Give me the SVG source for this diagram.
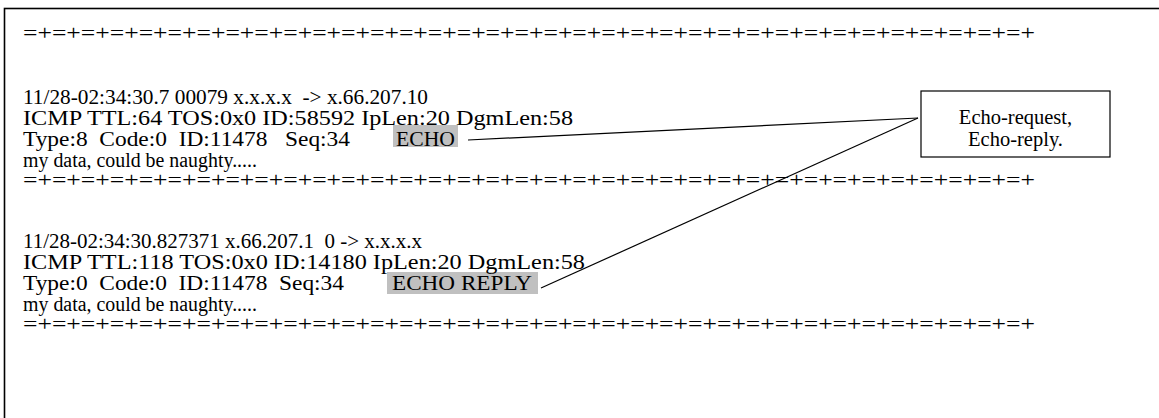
<svg xmlns="http://www.w3.org/2000/svg" width="1159" height="418" viewBox="0 0 1159 418">
<style>
text{font-family:"Liberation Serif","Times New Roman",serif;font-size:20.5px;fill:#000;white-space:pre}
.sep{font-size:20px}
.hl{fill:#c0c0c0}
.c{fill:none;stroke:#000;stroke-width:1.2}
.note{font-size:20.5px}
</style>
<rect width="1159" height="418" fill="#fff"/>
<rect x="4.5" y="8.5" width="1170" height="430" fill="none" stroke="#000" stroke-width="1.6"/>
<g id="log">
<rect class="hl" x="393" y="125" width="65" height="22"/>
<rect class="hl" x="387" y="272" width="151" height="22"/>
<text class="sep" x="23" y="40" textLength="1012" lengthAdjust="spacingAndGlyphs">=+=+=+=+=+=+=+=+=+=+=+=+=+=+=+=+=+=+=+=+=+=+=+=+=+=+=+=+=+=+=+=+=+=+=+</text>
<text x="23" y="104" textLength="405" lengthAdjust="spacingAndGlyphs">11/28-02:34:30.7 00079 x.x.x.x  -&gt; x.66.207.10</text>
<text x="23" y="125" textLength="550" lengthAdjust="spacingAndGlyphs">ICMP TTL:64 TOS:0x0 ID:58592 IpLen:20 DgmLen:58</text>
<text x="23" y="146" textLength="327" lengthAdjust="spacingAndGlyphs">Type:8  Code:0  ID:11478   Seq:34</text>
<text x="396" y="146" textLength="59" lengthAdjust="spacingAndGlyphs">ECHO</text>
<text x="23" y="167" textLength="234" lengthAdjust="spacingAndGlyphs">my data, could be naughty.....</text>
<text class="sep" x="23" y="187" textLength="1012" lengthAdjust="spacingAndGlyphs">=+=+=+=+=+=+=+=+=+=+=+=+=+=+=+=+=+=+=+=+=+=+=+=+=+=+=+=+=+=+=+=+=+=+=+</text>
<text x="23" y="248" textLength="399" lengthAdjust="spacingAndGlyphs">11/28-02:34:30.827371 x.66.207.1  0 -&gt; x.x.x.x</text>
<text x="23" y="269" textLength="562" lengthAdjust="spacingAndGlyphs">ICMP TTL:118 TOS:0x0 ID:14180 IpLen:20 DgmLen:58</text>
<text x="23" y="290" textLength="321" lengthAdjust="spacingAndGlyphs">Type:0  Code:0  ID:11478  Seq:34</text>
<text x="392" y="290" textLength="140" lengthAdjust="spacingAndGlyphs">ECHO REPLY</text>
<text x="23" y="311" textLength="234" lengthAdjust="spacingAndGlyphs">my data, could be naughty.....</text>
<text class="sep" x="23" y="331" textLength="1012" lengthAdjust="spacingAndGlyphs">=+=+=+=+=+=+=+=+=+=+=+=+=+=+=+=+=+=+=+=+=+=+=+=+=+=+=+=+=+=+=+=+=+=+=+</text>
</g>
<g id="connectors">
<path class="c" d="M468 140 L918 118"/>
<path class="c" d="M541 288 L918 118"/>
</g>
<g id="callout">
<rect x="921" y="91" width="189" height="66" fill="#fff" stroke="#000" stroke-width="1.2"/>
<text class="note" x="1015.5" y="124" text-anchor="middle">Echo-request,</text>
<text class="note" x="1015.5" y="146" text-anchor="middle">Echo-reply.</text>
</g>
</svg>
